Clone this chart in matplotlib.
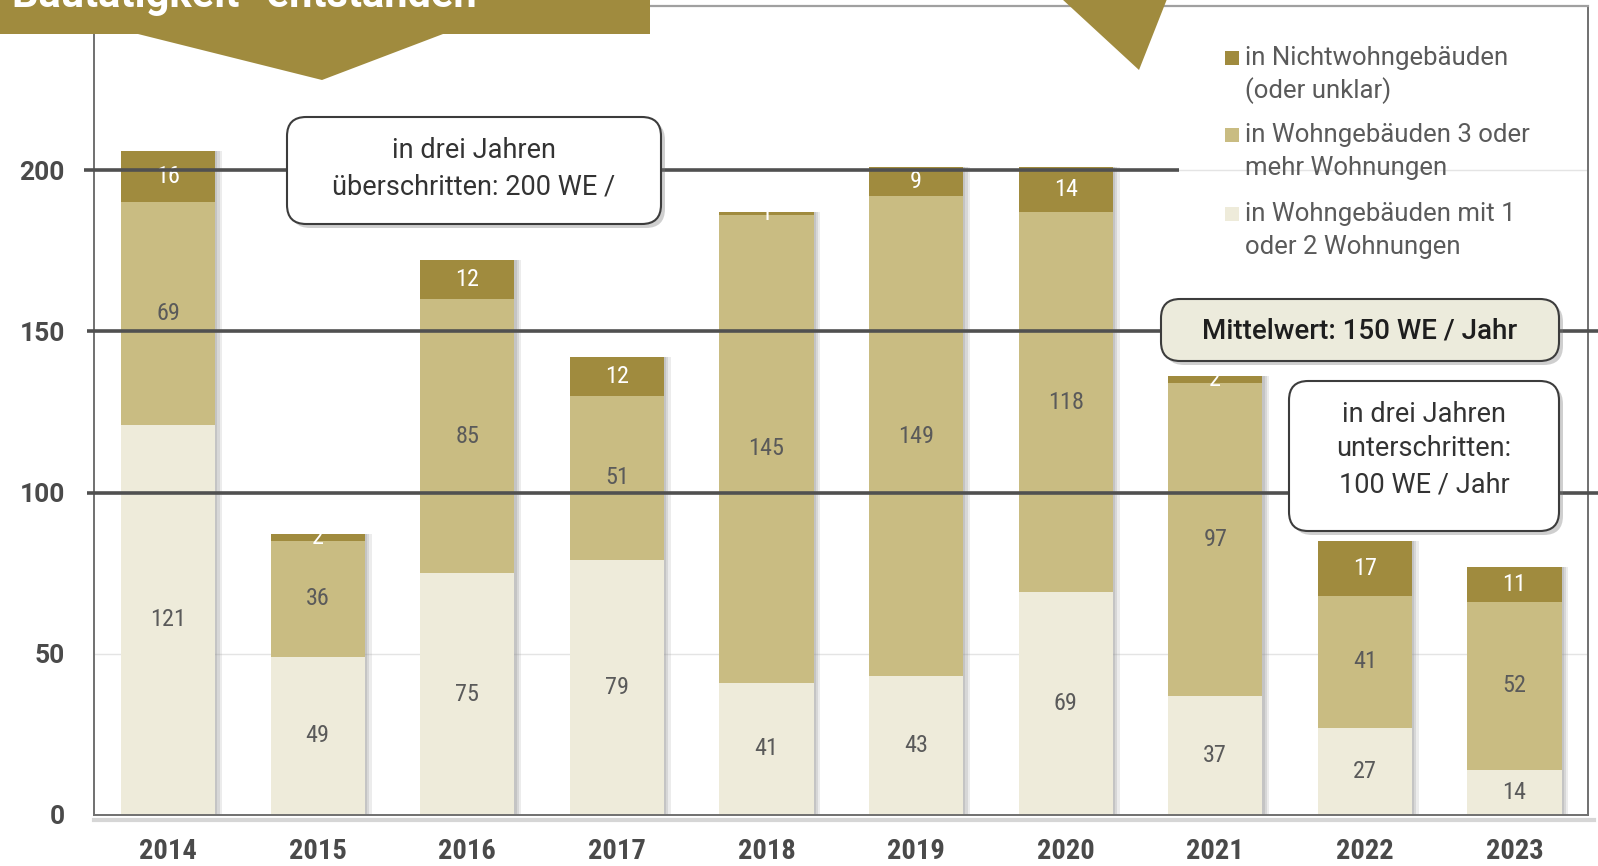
import matplotlib
matplotlib.use("Agg")
import matplotlib.pyplot as plt
import matplotlib.font_manager as fm
from matplotlib.patches import Polygon, Rectangle, FancyBboxPatch
import numpy as np

# ---- data -------------------------------------------------------------
years = ["2014", "2015", "2016", "2017", "2018", "2019", "2020", "2021", "2022", "2023"]
small_buildings = [121, 49, 75, 79, 41, 43, 69, 37, 27, 14]     # 1 or 2 dwellings
large_buildings = [69, 36, 85, 51, 145, 149, 118, 97, 41, 52]   # 3 or more dwellings
non_residential = [16, 2, 12, 12, 1, 9, 14, 2, 17, 11]         # non-residential / unclear

legend_labels = [
    "in Nichtwohngebäuden\n(oder unklar)",
    "in Wohngebäuden 3 oder\nmehr Wohnungen",
    "in Wohngebäuden mit 1\noder 2 Wohnungen",
]
yticks = [0, 50, 100, 150, 200]
ref_levels = [200, 150, 100]
callout_over = "in drei Jahren\nüberschritten: 200 WE /"
callout_mean = "Mittelwert: 150 WE / Jahr"
callout_under = "in drei Jahren\nunterschritten:\n100 WE / Jahr"
banner_text = "Bautätigkeit\u201c entstanden"

# ---- style ------------------------------------------------------------
C_DARK = "#a08b3e"
C_MID = "#c9bc82"
C_LIGHT = "#eeebda"
C_LINE = "#505050"
C_TEXT = "#5a5a5a"

available = {f.name for f in fm.fontManager.ttflist}
COND = next((n for n in ["Roboto Condensed", "Liberation Sans Narrow", "DejaVu Sans"]
             if n in available), "DejaVu Sans")
WIDE = next((n for n in ["Roboto", "Open Sans", "DejaVu Sans"] if n in available), "DejaVu Sans")
plt.rcParams["font.family"] = [COND, "DejaVu Sans"]
FAM_WIDE = [WIDE, "DejaVu Sans"]

W, H = 1598, 866
fig = plt.figure(figsize=(W / 100, H / 100), dpi=100)
fig.patch.set_facecolor("white")


def fx(px):
    return px / W


def fy(py):
    return 1 - py / H


# axes area in pixels (left, top, right, bottom)
AX_L, AX_T, AX_R, AX_B = 94, 6, 1588, 815
ax = fig.add_axes([fx(AX_L), fy(AX_B), fx(AX_R) - fx(AX_L), fy(AX_T) - fy(AX_B)])
ax.set_facecolor("white")

x = np.arange(len(years))
bw = 0.63
ymax = (AX_B - AX_T) / 3.225
ax.set_ylim(0, ymax)
ax.set_xlim(-0.495, -0.495 + (AX_R - AX_L) / 149.6)

# faint background grid
for v in yticks[1:]:
    ax.axhline(v, color="#e4e4e4", lw=1.0, zorder=0)

small = np.array(small_buildings)
large = np.array(large_buildings)
nonres = np.array(non_residential)
total = small + large + nonres

# soft shadows to the right of each bar
for off, a in [(0.045, 0.18), (0.03, 0.25), (0.015, 0.3)]:
    ax.bar(x + off, total, width=bw, color="#9a9a9a", alpha=a, zorder=1, linewidth=0)

b1 = ax.bar(x, small, width=bw, color=C_LIGHT, zorder=2, linewidth=0)
b2 = ax.bar(x, large, width=bw, bottom=small, color=C_MID, zorder=2, linewidth=0)
b3 = ax.bar(x, nonres, width=bw, bottom=small + large, color=C_DARK, zorder=2, linewidth=0)

for bars, vals, bottoms, col in [(b1, small, np.zeros_like(small), C_TEXT),
                                 (b2, large, small, C_TEXT),
                                 (b3, nonres, small + large, "white")]:
    for rect, v, b in zip(bars, vals, bottoms):
        t = ax.text(rect.get_x() + rect.get_width() / 2, b + v / 2, str(v),
                    ha="center", va="center", fontsize=17.5, color=col, zorder=3)
        t.set_clip_path(rect)

# reference lines
ytr = ax.get_yaxis_transform()
px2ax = lambda px: (px - AX_L) / (AX_R - AX_L)
ax.plot([px2ax(84), px2ax(1179)], [ref_levels[0]] * 2, color=C_LINE, lw=2.6,
        transform=ytr, clip_on=False, zorder=4, solid_capstyle="butt")
for lv in ref_levels[1:]:
    ax.plot([px2ax(87), px2ax(W)], [lv] * 2, color=C_LINE, lw=2.6,
            transform=ytr, clip_on=False, zorder=4, solid_capstyle="butt")

# axes frame
for side in ["left", "right", "bottom"]:
    ax.spines[side].set_color("#707070")
    ax.spines[side].set_linewidth(1.4)
ax.spines["top"].set_color("#a0a0a0")
ax.spines["top"].set_linewidth(1.6)
ax.plot([0, 1.004], [-0.006, -0.006], transform=ax.transAxes, color="#bbbbbb",
        lw=3, alpha=0.6, clip_on=False, zorder=0)

ax.set_yticks(yticks)
ax.set_yticklabels([str(v) for v in yticks], fontsize=19, fontweight="bold",
                   color="#4a4a4a", family=FAM_WIDE)
ax.set_xticks(x)
ax.set_xticklabels(years, fontsize=20.5, fontweight="bold", color="#4a4a4a")
ax.tick_params(axis="y", length=0, pad=21)
ax.tick_params(axis="x", length=0, pad=16.5)


# callout boxes (pixel coordinates from the top-left corner)
def callout(x0, y0, x1, y1, text, face, size, color, weight="normal", lines_y=None):
    w, h = fx(x1) - fx(x0), fy(y0) - fy(y1)
    shadow = FancyBboxPatch((fx(x0 + 4), fy(y1 + 4)), w, h,
                            boxstyle="round,pad=0,rounding_size=0.012",
                            transform=fig.transFigure, facecolor="#777777",
                            edgecolor="none", alpha=0.35, zorder=5,
                            mutation_aspect=W / H)
    box = FancyBboxPatch((fx(x0), fy(y1)), w, h,
                         boxstyle="round,pad=0,rounding_size=0.012",
                         transform=fig.transFigure, facecolor=face,
                         edgecolor="#3c3c3c", linewidth=1.5, zorder=6,
                         mutation_aspect=W / H)
    fig.add_artist(shadow)
    fig.add_artist(box)
    cx = fx((x0 + x1) / 2)
    lines = text.split("\n")
    for ln, ly in zip(lines, lines_y):
        fig.text(cx, fy(ly), ln, ha="center", va="center", fontsize=size,
                 color=color, fontweight=weight, family=FAM_WIDE, zorder=7)


callout(287, 117, 661, 224, callout_over, "white", 19.5, "#333333", lines_y=[151, 187])
callout(1161, 299, 1559, 361, callout_mean, "#ecebdc", 20, "#1e1e1e",
        weight="medium", lines_y=[331])
callout(1289, 381, 1559, 531, callout_under, "white", 19.5, "#333333",
        lines_y=[414, 449, 485])

# legend
leg_colors = [C_DARK, C_MID, C_LIGHT]
leg_y = [58, 135, 214]
for lbl, col, ly in zip(legend_labels, leg_colors, leg_y):
    fig.add_artist(Rectangle((fx(1225), fy(ly + 7)), fx(14), fx(14) * W / H,
                             transform=fig.transFigure, facecolor=col,
                             edgecolor="none", zorder=6))
    first, second = lbl.split("\n")
    fig.text(fx(1245), fy(ly), first, ha="left", va="center", fontsize=18.5,
             color=C_TEXT, family=FAM_WIDE, zorder=7)
    fig.text(fx(1245), fy(ly + 33), second, ha="left", va="center", fontsize=18.5,
             color=C_TEXT, family=FAM_WIDE, zorder=7)

# banner with arrow at the top-left, pointer at the top-right
banner = Polygon([(fx(0), fy(0)), (fx(650), fy(0)), (fx(650), fy(34)), (fx(443), fy(34)),
                  (fx(322), fy(80)), (fx(138), fy(34)), (fx(0), fy(34))],
                 closed=True, transform=fig.transFigure, facecolor=C_DARK,
                 edgecolor="none", zorder=8)
fig.add_artist(banner)
fig.text(fx(12), fy(7), banner_text, ha="left", va="baseline", fontsize=30,
         fontweight="bold", color="white", family=FAM_WIDE, zorder=9)
pointer = Polygon([(fx(1062), fy(-1)), (fx(1167), fy(-1)), (fx(1139), fy(70))],
                  closed=True, transform=fig.transFigure, facecolor=C_DARK,
                  edgecolor="none", zorder=8)
fig.add_artist(pointer)

fig.savefig("out.png", dpi=100, facecolor="white")
